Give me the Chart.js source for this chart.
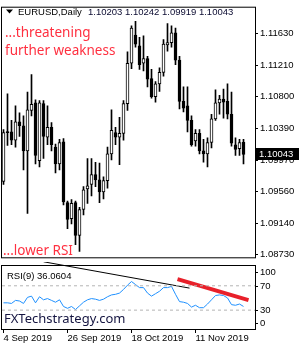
<!DOCTYPE html>
<html>
<head>
<meta charset="utf-8">
<script src="https://cdn.jsdelivr.net/npm/chart.js@4.4.1/dist/chart.umd.min.js"></script>
<style>
  html, body { margin: 0; padding: 0; background: #fff; }
  #wrap { position: relative; width: 300px; height: 350px; overflow: hidden; }
  #price { position: absolute; left: 0; top: 0; }
  #rsi { position: absolute; left: 0; top: 262px; }
</style>
</head>
<body>
<div id="wrap">
  <canvas id="price" width="300" height="265"></canvas>
  <canvas id="rsi" width="300" height="88"></canvas>
</div>
<script>
// EURUSD daily, 4 Sep 2019 .. 27 Nov 2019
const opens = [1.0969, 1.1034, 1.1034, 1.1023, 1.1047, 1.1042, 1.1009, 1.1062, 1.1072, 1.0996,
  1.1071, 1.1027, 1.1040, 1.1014, 1.0992, 1.1021, 1.0941, 1.0920, 1.0941, 1.0898,
  1.0932, 1.0959, 1.0965, 1.0978, 1.0971, 1.0955, 1.0970, 1.1005, 1.1033, 1.1027,
  1.1032, 1.1071, 1.1124, 1.1161, 1.1147, 1.1124, 1.1130, 1.1104, 1.1080, 1.1097,
  1.1112, 1.1148, 1.1151, 1.1164, 1.1128, 1.1074, 1.1068, 1.1049, 1.1022, 1.1032,
  1.1009, 1.1005, 1.1020, 1.1051, 1.1072, 1.1077, 1.1074, 1.1057, 1.1017, 1.1012,
  1.10203];
const highs = [1.1037, 1.1084, 1.1049, 1.1068, 1.1059, 1.1055, 1.1086, 1.1109, 1.1076, 1.1075,
  1.1075, 1.1068, 1.1046, 1.1018, 1.1024, 1.1025, 1.0943, 1.0945, 1.0943, 1.0935,
  1.0962, 1.0999, 1.0999, 1.0994, 1.0993, 1.0975, 1.1014, 1.1063, 1.1040, 1.1053,
  1.1075, 1.1139, 1.1173, 1.1179, 1.1158, 1.1160, 1.1133, 1.1116, 1.1100, 1.1118,
  1.1155, 1.1176, 1.1173, 1.1170, 1.1133, 1.1093, 1.1093, 1.1055, 1.1037, 1.1037,
  1.1024, 1.1026, 1.1057, 1.1089, 1.1082, 1.1090, 1.1097, 1.1086, 1.1026, 1.1024,
  1.10242];
const lows = [1.0965, 1.1016, 1.1017, 1.1014, 1.1028, 1.0984, 1.0927, 1.1055, 1.0992, 1.0988,
  1.0999, 1.1017, 1.1009, 1.0980, 1.0984, 1.0938, 1.0907, 1.0913, 1.0886, 1.0877,
  1.0925, 1.0940, 1.0950, 1.0962, 1.0941, 1.0946, 1.0960, 1.0997, 1.1017, 1.0991,
  1.1023, 1.1062, 1.1117, 1.1145, 1.1116, 1.1114, 1.1093, 1.1078, 1.1073, 1.1087,
  1.1107, 1.1140, 1.1145, 1.1122, 1.1064, 1.1060, 1.1034, 1.1015, 1.1015, 1.1005,
  1.0994, 1.0988, 1.1013, 1.1049, 1.1057, 1.1052, 1.1051, 1.1015, 1.1003, 1.1003,
  1.09919];
const closes = [1.1033, 1.1033, 1.1023, 1.1047, 1.1042, 1.1009, 1.1063, 1.1070, 1.1003, 1.1072,
  1.1028, 1.1040, 1.1017, 1.0992, 1.1020, 1.0942, 1.0919, 1.0940, 1.0898, 1.0932,
  1.0958, 1.0963, 1.0978, 1.0971, 1.0955, 1.0970, 1.1005, 1.1036, 1.1027, 1.1032,
  1.1071, 1.1124, 1.1170, 1.1149, 1.1122, 1.1130, 1.1103, 1.1080, 1.1097, 1.1112,
  1.1149, 1.1151, 1.1164, 1.1128, 1.1074, 1.1065, 1.1049, 1.1017, 1.1032, 1.1009,
  1.1005, 1.1020, 1.1051, 1.1072, 1.1077, 1.1073, 1.1057, 1.1019, 1.1011, 1.1020,
  1.10043];
const rsiValues = [42, 42, 41, 46, 45, 41, 51, 53, 42, 52,
  47, 49, 46, 43, 47, 36, 33, 36, 31, 37,
  43, 47, 49, 48, 46, 48, 52, 55, 56, 58,
  64, 71, 77, 72, 67, 67, 58, 53, 57, 61,
  67, 67, 69, 56, 44, 43, 41, 35, 38, 34,
  34, 40, 47, 54, 55, 54, 50, 39, 38, 40,
  36.0604];
const priceTicks = [1.08730, 1.09140, 1.09560, 1.09970, 1.10390, 1.10800, 1.11210, 1.11630];
const rsiTicks = [0, 30, 70, 100];
const rsiLevels = [30, 70];
const dateTicks = [0, 16, 32, 48];
const dateLabels = ['4 Sep 2019', '26 Sep 2019', '18 Oct 2019', '11 Nov 2019'];
const blackTrend = [[10, 109.5], [46.5, 66.2]];
const redTrend = [[43.5, 81], [61.25, 46.5]];

const xMin = -0.375, xMax = 62.875;
const small = '9.5px "Liberation Sans", Arial, sans-serif';
const n = closes.length;
const idx = closes.map((_, i) => i);

const wickData = idx.map(i => ({ x: i, y: [lows[i], highs[i]] }));
const bodyData = idx.map(i => ({ x: i, y: [Math.min(opens[i], closes[i]), Math.max(opens[i], closes[i])] }));
const bodyFill = idx.map(i => closes[i] > opens[i] ? '#fff' : '#000');

function frame(chart) {
  const { left, top, right, bottom } = chart.chartArea;
  const ctx = chart.ctx;
  ctx.strokeStyle = '#000';
  ctx.lineWidth = 1;
  ctx.strokeRect(left - 0.5, top - 0.5, right - left + 1, bottom - top + 1);
}

const priceDeco = {
  id: 'priceDeco',
  afterDraw(chart) {
    const ctx = chart.ctx;
    const { right } = chart.chartArea;
    ctx.save();
    frame(chart);

    // header
    ctx.fillStyle = '#000';
    ctx.beginPath();
    ctx.moveTo(6, 9.5); ctx.lineTo(13, 9.5); ctx.lineTo(9.5, 13.5); ctx.closePath();
    ctx.fill();
    ctx.font = small;
    ctx.textBaseline = 'alphabetic';
    ctx.fillStyle = '#000';
    ctx.fillText('EURUSD,Daily', 18, 15);
    ctx.fillStyle = '#0a0a30';
    const last = n - 1;
    ctx.fillText([opens[last], highs[last], lows[last], closes[last]].map(v => v.toFixed(5)).join(' '), 88, 15);

    // comments
    ctx.font = '13.5px "Noto Sans", sans-serif';
    ctx.fillStyle = '#ff3040';
    ctx.fillText('...threatening', 5, 37);
    ctx.fillText('further weakness', 5, 55);
    ctx.fillText('...lower RSI', 3, 255);

    // last price box
    const y = chart.scales.y.getPixelForValue(closes[last]);
    ctx.fillStyle = '#000';
    ctx.fillRect(right + 1, Math.round(y) - 6, 43, 12);
    ctx.fillStyle = '#fff';
    ctx.font = small;
    ctx.textBaseline = 'middle';
    ctx.fillText(closes[last].toFixed(5), right + 4, Math.round(y));
    ctx.restore();
  }
};

new Chart(document.getElementById('price'), {
  type: 'bar',
  data: {
    datasets: [
      { data: bodyData, backgroundColor: bodyFill, borderColor: '#000', borderWidth: 1, borderSkipped: false,
        maxBarThickness: 3, barPercentage: 1, categoryPercentage: 1, minBarLength: 1, grouped: false, order: 1 },
      { data: wickData, backgroundColor: '#000', borderWidth: 0,
        maxBarThickness: 1, barPercentage: 1, categoryPercentage: 1, grouped: false, order: 2 }
    ]
  },
  options: {
    responsive: false, animation: false, devicePixelRatio: 1,
    layout: { padding: { left: 2, top: 2, bottom: 2, right: 0 } },
    plugins: { legend: { display: false }, tooltip: { enabled: false } },
    scales: {
      x: { type: 'linear', min: xMin, max: xMax, offset: false, display: false },
      y: {
        position: 'right', min: 1.08693, max: 1.11969, beginAtZero: false,
        afterFit: s => { s.width = 45; },
        afterBuildTicks: s => { s.ticks = priceTicks.map(v => ({ value: v })); },
        ticks: { callback: v => v.toFixed(5), color: '#000', font: { family: '"Liberation Sans", Arial', size: 9.5 }, padding: 2, autoSkip: false },
        grid: { drawOnChartArea: false, drawTicks: true, tickLength: 3, color: '#000' },
        border: { color: '#000' }
      }
    }
  },
  plugins: [priceDeco]
});

const rsiDeco = {
  id: 'rsiDeco',
  afterDraw(chart) {
    const ctx = chart.ctx;
    const { top, bottom, right } = chart.chartArea;
    const ys = chart.scales.y;
    ctx.save();
    frame(chart);
    ctx.font = small;
    ctx.fillStyle = '#000';
    ctx.textBaseline = 'middle';
    rsiTicks.forEach(v => {
      const y = Math.round(Math.min(bottom - 6, Math.max(top + 6, ys.getPixelForValue(v))));
      ctx.fillRect(right, y, 3, 1);
      ctx.fillText(String(v), right + 5, y + 0.5);
    });
    ctx.textBaseline = 'alphabetic';
    ctx.fillText('RSI(9) ' + rsiValues[n - 1].toFixed(4), 7, 16.5);
    ctx.font = '13px "Noto Sans", sans-serif';
    ctx.fillStyle = '#141440';
    ctx.fillText('FXTechstrategy.com', 4, 61);
    ctx.restore();
  }
};

new Chart(document.getElementById('rsi'), {
  type: 'line',
  data: {
    datasets: [
      ...rsiLevels.map(l => ({ data: [{ x: xMin, y: l }, { x: xMax, y: l }], borderColor: '#b4b4b4', borderWidth: 1, borderDash: [3, 3], pointRadius: 0 })),
      { data: idx.map(i => ({ x: i, y: rsiValues[i] })), borderColor: '#1e90ff', borderWidth: 1, pointRadius: 0, tension: 0 },
      { data: blackTrend.map(p => ({ x: p[0], y: p[1] })), borderColor: '#000', borderWidth: 1, pointRadius: 0, clip: false },
      { data: redTrend.map(p => ({ x: p[0], y: p[1] })), borderColor: '#e8202a', borderWidth: 4, pointRadius: 0 }
    ]
  },
  options: {
    responsive: false, animation: false, devicePixelRatio: 1,
    layout: { padding: { left: 2, top: 4, bottom: 0, right: 0 } },
    plugins: { legend: { display: false }, tooltip: { enabled: false } },
    scales: {
      x: {
        type: 'linear', min: xMin, max: xMax, offset: false, position: 'bottom',
        afterFit: s => { s.height = 21; },
        afterBuildTicks: s => { s.ticks = dateTicks.map(v => ({ value: v })); },
        ticks: {
          callback: v => dateLabels[dateTicks.indexOf(v)], align: 'start', maxRotation: 0, autoSkip: false,
          color: '#000', font: { family: '"Liberation Sans", Arial', size: 9.5 }, padding: 0
        },
        grid: { drawOnChartArea: false, drawTicks: true, tickLength: 4, color: '#000' },
        border: { color: '#000' }
      },
      y: {
        position: 'right', min: -1, max: 102.5,
        afterFit: s => { s.width = 45; },
        ticks: { display: false },
        grid: { display: false },
        border: { color: '#000' }
      }
    }
  },
  plugins: [rsiDeco]
});
</script>
</body>
</html>
